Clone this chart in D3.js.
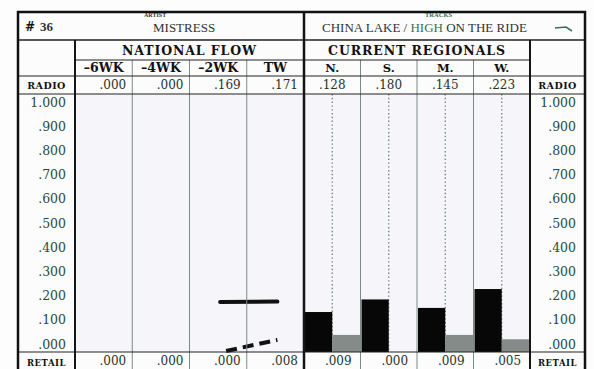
<!DOCTYPE html>
<html>
<head>
<meta charset="utf-8">
<script src="https://cdn.jsdelivr.net/npm/d3@7"></script>
<style>
  body { margin: 0; background: #fdfdfd; }
  svg { display: block; }
  .val { font-family: "DejaVu Serif", serif; font-size: 12px; fill: #1f332b; }
  .tick text { font-family: "DejaVu Serif", serif; font-size: 12.5px; fill: #2a4a3d; }
  .hdr { font-family: "DejaVu Serif", serif; font-weight: bold; fill: #111; }
  .ttl { font-family: "Liberation Serif", serif; font-size: 13px; fill: #333; }
</style>
</head>
<body>
<div id="canvas"></div>
<script>
// chart values
var natCols = ["\u20136WK", "\u20134WK", "\u20132WK", "TW"];
var natRadio = [0.000, 0.000, 0.169, 0.171];
var natRetail = [0.000, 0.000, 0.000, 0.008];
var regions = ["N.", "S.", "M.", "W."];
var regRadio = [0.128, 0.180, 0.145, 0.223];
var regRetail = [0.009, 0.000, 0.009, 0.005];
var radioTicks = [0, 0.1, 0.2, 0.3, 0.4, 0.5, 0.6, 0.7, 0.8, 0.9, 1.0];

var width = 594, height = 369;
var frameL = 18, frameR = 585, frameT = 12;
var labelW = 75, natEnd = 304, regEnd = 530;
var titleB = 40, groupB = 60, colB = 76, radioB = 94, plotB = 352;

var svg = d3.select("#canvas")
            .append("svg")
                .attr("width", width)
                .attr("height", height);

var xNat = d3.scaleBand().domain(natCols).range([labelW, natEnd]);
var xReg = d3.scaleBand().domain(regions).range([natEnd, regEnd]);
var y = d3.scaleLinear().domain([0, 1]).range([343, 101]);
// retail marks sit on their own compressed scale at the foot of the chart
var yRetail = d3.scaleSqrt().domain([0, 0.01]).range([plotB, 334]);

var fmt = function(v) { return v >= 1 ? "1.000" : d3.format(".3f")(v).replace(/^0/, ""); };

// paper + faint tint in the plot area
svg.append("rect").attr("x", frameL).attr("y", frameT).attr("width", frameR - frameL).attr("height", height - frameT)
    .style("fill", "#fcfcfd");
svg.append("rect").attr("x", labelW).attr("y", radioB).attr("width", regEnd - labelW).attr("height", plotB - radioB)
    .style("fill", "#f5f5fa");

// dotted centre lines of the regional columns
svg.selectAll("line.dot")
    .data(regions)
    .enter().append("line")
    .attr("x1", function(d) { return xReg(d) + xReg.bandwidth() / 2; })
    .attr("x2", function(d) { return xReg(d) + xReg.bandwidth() / 2; })
    .attr("y1", radioB).attr("y2", plotB)
    .style("stroke", "#6f7f78").style("stroke-width", 1.3)
    .style("stroke-dasharray", "1.4,2.4");

// regional bars: radio (black, left half) and retail (grey, right half)
var half = xReg.bandwidth() / 2;
svg.selectAll("rect.radio")
    .data(regRadio)
    .enter().append("rect")
    .attr("x", function(d, i) { return xReg(regions[i]) + 1; })
    .attr("y", function(d) { return y(d); })
    .attr("width", half - 1)
    .attr("height", function(d) { return plotB - y(d); })
    .style("fill", "#070707");

svg.selectAll("rect.retail")
    .data(regRetail)
    .enter().append("rect")
    .attr("x", function(d, i) { return xReg(regions[i]) + half; })
    .attr("y", function(d) { return yRetail(d); })
    .attr("width", half)
    .attr("height", function(d) { return plotB - yRetail(d); })
    .style("fill", "#858b89");

// national flow lines
var cx = function(i) { return xNat(natCols[i]) + xNat.bandwidth() / 2; };
for (var i = 1; i < natCols.length; i++) {
    if (natRadio[i - 1] > 0 && natRadio[i] > 0) {
        svg.append("line")
            .attr("x1", cx(i - 1) + 2).attr("x2", cx(i) + 2)
            .attr("y1", y(natRadio[i - 1])).attr("y2", y(natRadio[i]))
            .style("stroke", "#111").style("stroke-width", 4).style("stroke-linecap", "round");
    }
    if (natRetail[i - 1] > 0 || natRetail[i] > 0) {
        svg.append("line")
            .attr("x1", cx(i - 1) + 8).attr("x2", cx(i) + 2)
            .attr("y1", yRetail(natRetail[i - 1]) - 1).attr("y2", yRetail(natRetail[i]) + 4)
            .style("stroke", "#111").style("stroke-width", 4)
            .style("stroke-dasharray", "11,6");
    }
}

// thin column rules
var thin = xNat.domain().slice(1).map(function(d) { return xNat(d); })
            .concat(xReg.domain().slice(1).map(function(d) { return xReg(d); }));
svg.selectAll("line.thin")
    .data(thin)
    .enter().append("line")
    .attr("x1", function(d) { return d; }).attr("x2", function(d) { return d; })
    .attr("y1", groupB).attr("y2", height)
    .style("stroke", "#7d8a84").style("stroke-width", 1);

// horizontal rules
function hline(x1, x2, yy, w) {
    svg.append("line").attr("x1", x1).attr("x2", x2).attr("y1", yy).attr("y2", yy)
        .style("stroke", "#222").style("stroke-width", w);
}
hline(frameL, frameR, titleB, 1.5);
hline(labelW, regEnd, groupB, 1);
hline(frameL, frameR, colB, 1);
hline(frameL, frameR, radioB, 1.2);
hline(frameL, frameR, plotB, 1.2);

// heavy verticals
function vline(xx, y1, w) {
    svg.append("line").attr("x1", xx).attr("x2", xx).attr("y1", y1).attr("y2", height)
        .style("stroke", "#151515").style("stroke-width", w);
}
vline(labelW, titleB, 2);
vline(natEnd, frameT, 2.5);
vline(regEnd, titleB, 2);
svg.append("rect").attr("x", frameL).attr("y", frameT).attr("width", frameR - frameL).attr("height", height - frameT + 5)
    .style("fill", "none").style("stroke", "#111").style("stroke-width", 2.5);

// title row
svg.append("text").attr("class", "hdr").attr("x", 25).attr("y", 31).style("font-size", "12px").text("#");
svg.append("text").attr("class", "ttl").attr("x", 40).attr("y", 31).style("font-size", "13px").style("font-weight", "bold").text("36");
svg.append("text").attr("class", "ttl").attr("x", 144).attr("y", 17).style("font-size", "6px").style("font-weight", "bold").text("ARTIST");
svg.append("text").attr("class", "ttl").attr("x", 153).attr("y", 32).text("MISTRESS");
var t = svg.append("text").attr("class", "ttl").attr("x", 322).attr("y", 32);
t.append("tspan").text("CHINA LAKE / ");
t.append("tspan").style("fill", "#3d6e55").text("HIGH");
t.append("tspan").text(" ON THE RIDE");
svg.append("text").attr("class", "ttl").attr("x", 425).attr("y", 17).style("font-size", "6.5px")
    .style("font-weight", "bold").style("fill", "#3d6e55").text("TRACKS");
svg.append("path").attr("d", "M555,28 L566,27 L572,31")
    .style("fill", "none").style("stroke", "#3d6e55").style("stroke-width", 1.6);

// group headers
svg.append("text").attr("class", "hdr").attr("x", (labelW + natEnd) / 2).attr("y", 55)
    .style("font-size", "12.5px").style("letter-spacing", "0.9px").style("text-anchor", "middle").text("NATIONAL FLOW");
svg.append("text").attr("class", "hdr").attr("x", (natEnd + regEnd) / 2).attr("y", 55)
    .style("font-size", "12.5px").style("letter-spacing", "0.9px").style("text-anchor", "middle").text("CURRENT REGIONALS");

// column headers
svg.selectAll("text.nc")
    .data(natCols)
    .enter().append("text").attr("class", "hdr")
    .attr("x", function(d) { return xNat(d) + xNat.bandwidth() / 2; })
    .attr("y", 72).style("font-size", "12.5px").style("text-anchor", "middle")
    .text(function(d) { return d; });
svg.selectAll("text.rc")
    .data(regions)
    .enter().append("text").attr("class", "hdr")
    .attr("x", function(d) { return xReg(d) + xReg.bandwidth() / 2; })
    .attr("y", 72).style("font-size", "11.5px").style("text-anchor", "middle")
    .text(function(d) { return d; });

// row labels
[[(frameL + labelW) / 2, 89, "RADIO"], [(regEnd + frameR) / 2, 89, "RADIO"],
 [(frameL + labelW) / 2, 366, "RETAIL"], [(regEnd + frameR) / 2, 366, "RETAIL"]].forEach(function(r) {
    svg.append("text").attr("class", "hdr").attr("x", r[0]).attr("y", r[1])
        .style("font-size", r[2] == "RADIO" ? "9.5px" : "8.5px").style("letter-spacing", "0.5px")
        .style("text-anchor", "middle").text(r[2]);
});

// radio / retail figures
function figures(vals, xs, yy, anchor) {
    svg.selectAll(null)
        .data(vals)
        .enter().append("text").attr("class", "val")
        .attr("x", function(d, i) { return xs(i); })
        .attr("y", yy).style("text-anchor", anchor)
        .text(fmt);
}
var natRight = function(i) { return xNat(natCols[i]) + xNat.bandwidth() - 6; };
var regMid = function(i) { return xReg(regions[i]) + xReg.bandwidth() / 2; };
figures(natRadio, natRight, 89, "end");
figures(regRadio, regMid, 89, "middle");
figures(natRetail, natRight, 365, "end");
figures(regRetail, function(i) { return regMid(i) + 6; }, 365, "middle");

// scale columns both sides
var axL = d3.axisLeft(y).tickValues(radioTicks).tickSize(0).tickPadding(0).tickFormat(fmt);
var axR = d3.axisLeft(y).tickValues(radioTicks).tickSize(0).tickPadding(0).tickFormat(fmt);
svg.append("g").attr("transform", "translate(66,1)").call(axL).call(function(g) { g.select(".domain").remove(); });
svg.append("g").attr("transform", "translate(576,1)").call(axR).call(function(g) { g.select(".domain").remove(); });
</script>
</body>
</html>
